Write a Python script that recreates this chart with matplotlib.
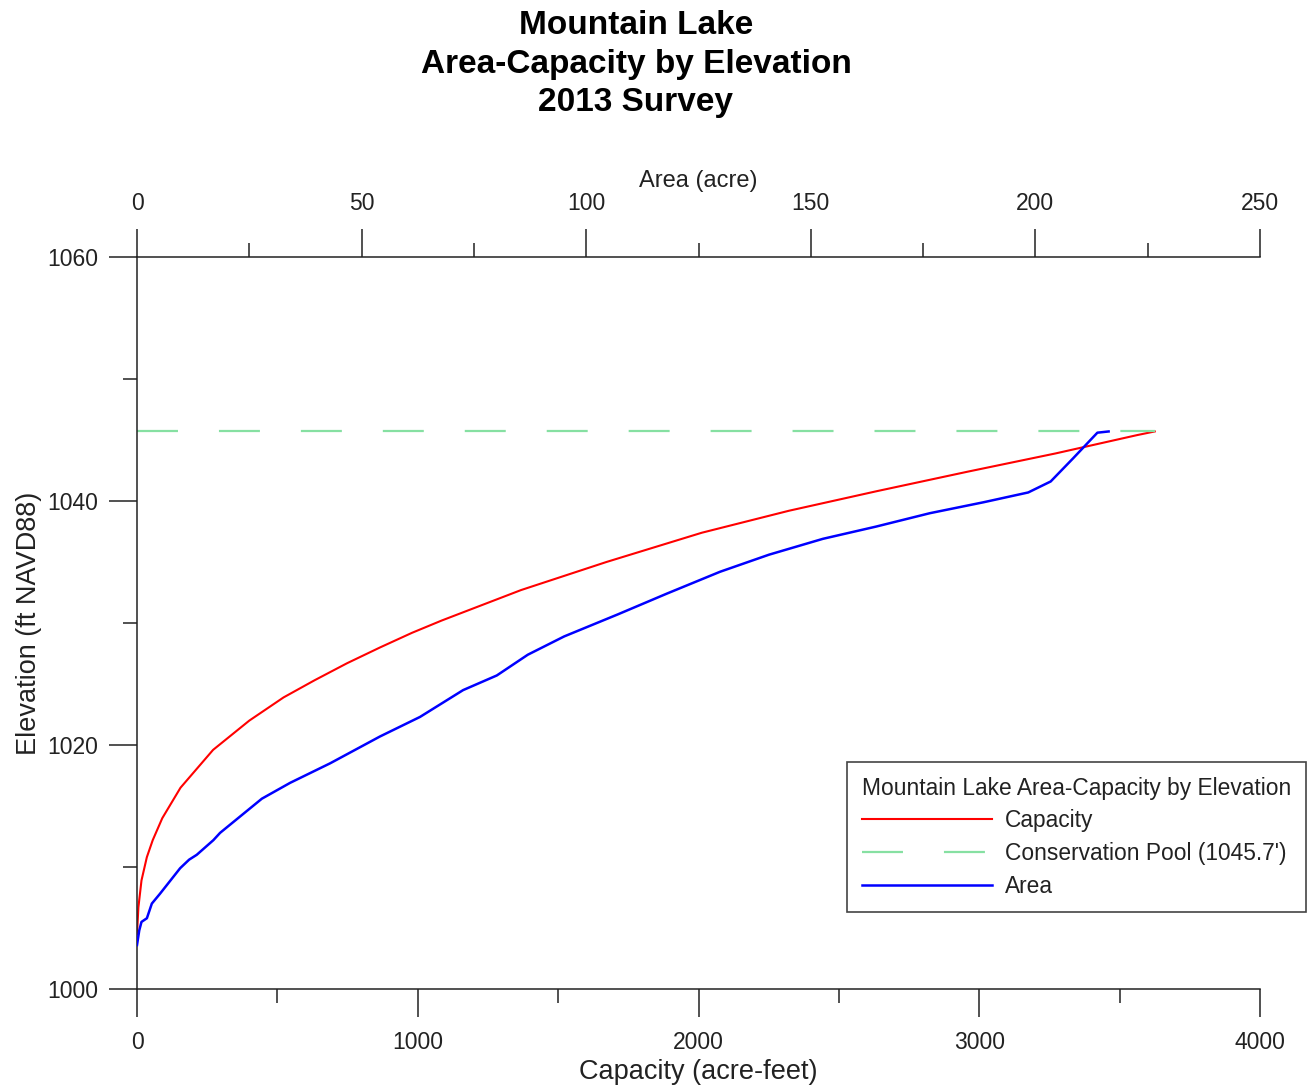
import matplotlib
matplotlib.use("Agg")
import matplotlib.pyplot as plt

plt.rcParams['font.family'] = ['Liberation Sans', 'DejaVu Sans']
plt.rcParams['lines.scale_dashes'] = False

# capacity curve (acre-feet) vs elevation (ft)
cap_elev = [1004.5, 1006.7, 1008.9, 1010.8, 1012.2, 1014.0, 1016.5, 1019.6, 1022.0,
            1023.9, 1025.3, 1026.7, 1028.0, 1029.2, 1030.2, 1032.7, 1035.0, 1037.4,
            1039.2, 1040.8, 1042.4, 1043.9, 1045.4, 1045.7]
capacity = [0, 5, 16, 35, 56, 90, 155, 271, 400, 522, 632, 748, 866, 980, 1085, 1368,
            1672, 2012, 2322, 2634, 2958, 3272, 3562, 3625]

# area curve (acre) vs elevation (ft)
area_elev = [1003.6, 1004.8, 1005.5, 1005.8, 1007.0, 1007.8, 1009.9, 1010.6, 1011.0,
             1012.2, 1012.8, 1015.6, 1016.9, 1018.5, 1020.7, 1022.3, 1024.5,
             1025.7, 1027.4, 1028.9, 1030.7, 1032.4, 1034.2, 1035.6, 1036.9, 1037.9,
             1039.0, 1039.9, 1040.7, 1041.6, 1043.5, 1045.6, 1045.7]
area = [0.0, 0.5, 1.0, 2.2, 3.3, 5.1, 9.6, 11.6, 13.3, 17.0, 18.5, 27.8, 34.1, 43.0,
        54.1, 63.0, 72.6, 80.1, 87.0, 95.1, 107.0, 117.9, 129.8, 140.7, 152.7,
        164.5, 176.5, 188.5, 198.4, 203.4, 208.4, 213.8, 216.3]

pool_elev = 1045.7
pool_cap = [0, 3625]

title_lines = ["Mountain Lake", "Area-Capacity by Elevation", "2013 Survey"]

W, H = 1313, 1087
fig = plt.figure(figsize=(W / 100, H / 100), dpi=100)
ax = fig.add_axes([137 / W, 1 - 989 / H, (1260 - 137) / W, (989 - 257) / H])
ax2 = ax.twiny()

axc = '#222222'
fs = 16.5

ax.plot(capacity, cap_elev, color='#ff0000', lw=1.5, label='Capacity')
pool, = ax.plot(pool_cap, [pool_elev, pool_elev], color='#86e0a2', lw=1.6,
                label="Conservation Pool (1045.7')")
pool.set_dashes((29.5, 29.5))
ax2.plot(area, area_elev, color='#0000ff', lw=1.8, label='Area')

ax.set_xlim(0, 4000)
ax.set_ylim(1000, 1060)
ax2.set_xlim(0, 250)

ax.set_xticks([0, 1000, 2000, 3000, 4000])
ax.set_xticks([500, 1500, 2500, 3500], minor=True)
ax.set_yticks([1000, 1020, 1040, 1060])
ax.set_yticks([1010, 1030, 1050], minor=True)
ax2.set_xticks([0, 50, 100, 150, 200, 250])
ax2.set_xticks([25, 75, 125, 175, 225], minor=True)

for a in (ax, ax2):
    a.tick_params(which='major', length=20, width=1.1, color=axc, labelsize=fs,
                  labelcolor=axc, pad=10)
    a.tick_params(which='minor', length=10, width=1.1, color=axc)
    for s in a.spines.values():
        s.set_visible(False)
        s.set_color(axc)
        s.set_linewidth(1.1)
ax.spines['left'].set_visible(True)
ax.spines['bottom'].set_visible(True)
ax2.spines['top'].set_visible(True)
ax.tick_params(axis='y', pad=8)

ax.set_xlabel('Capacity (acre-feet)', fontsize=19.5, color=axc, labelpad=4)
ax.set_ylabel('Elevation (ft NAVD88)', fontsize=19.5, color=axc, labelpad=4)
ax2.set_xlabel('Area (acre)', fontsize=17, color=axc, labelpad=4)

for i, t in enumerate(title_lines):
    fig.text(636 / W, 1 - (25 + 39 * i) / H, t, ha='center', va='center',
             fontsize=24, fontweight='bold', color='black')

h1, l1 = ax.get_legend_handles_labels()
h2, l2 = ax2.get_legend_handles_labels()
leg = ax2.legend(h1 + h2, l1 + l2, title='Mountain Lake Area-Capacity by Elevation',
                 loc='upper left', bbox_to_anchor=(847 / W, 1 - 762 / H),
                 bbox_transform=fig.transFigure, borderaxespad=0, fontsize=16.4,
                 title_fontsize=16.4, handlelength=5.7, handletextpad=0.57,
                 labelspacing=0.42, borderpad=0.65, fancybox=False, framealpha=1,
                 alignment='left')
leg.get_frame().set_edgecolor('#444444')
leg.get_frame().set_linewidth(1.2)
for t in leg.get_texts():
    t.set_color(axc)
leg.get_title().set_color(axc)

fig.savefig('out.png', dpi=100)
